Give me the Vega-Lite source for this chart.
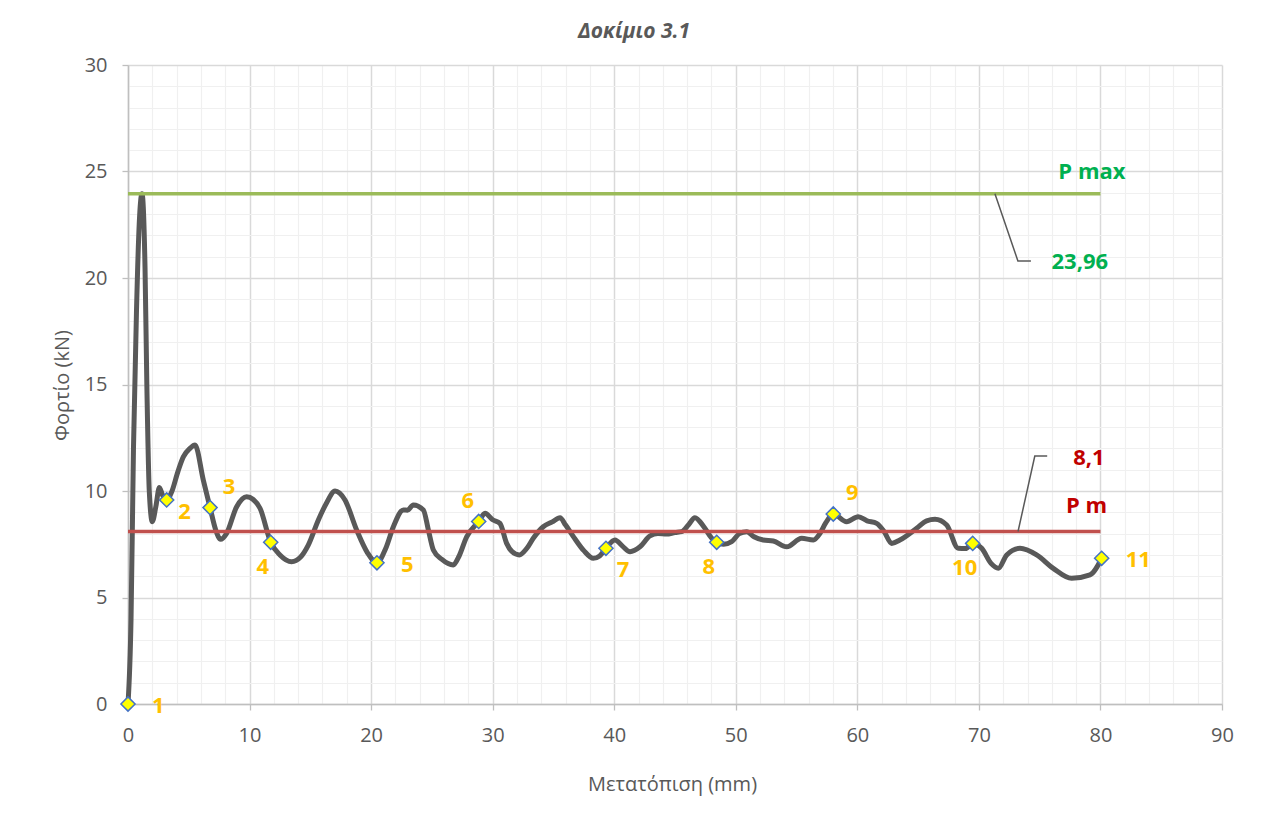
{
  "$schema": "https://vega.github.io/schema/vega-lite/v6.json",
  "width": 1094,
  "height": 639,
  "autosize": {"type": "none"},
  "padding": {"left": 128, "top": 65, "right": 47, "bottom": 110},
  "background": "white",
  "config": {"view": {"stroke": null}, "font": "Open Sans"},
  "title": {"text": "Δοκίμιο 3.1", "fontSize": 21, "fontWeight": "bold", "fontStyle": "italic", "color": "#595959", "dx": -41, "offset": 13, "frame": "group", "font": "Open Sans"},
  "resolve": {"scale": {"color": "independent"}},
  "datasets": {
    "curve": [
      {"x": 0, "y": 0}, {"x": 0.25, "y": 4}, {"x": 0.45, "y": 12}, {"x": 0.7, "y": 18.5}, {"x": 0.92, "y": 22.5}, {"x": 1.15, "y": 23.96},
      {"x": 1.4, "y": 20.5}, {"x": 1.55, "y": 15}, {"x": 1.75, "y": 10}, {"x": 2.0, "y": 8.56}, {"x": 2.3, "y": 9.3}, {"x": 2.58, "y": 10.17},
      {"x": 2.85, "y": 9.8}, {"x": 3.18, "y": 9.58}, {"x": 3.6, "y": 9.97}, {"x": 4.1, "y": 10.9}, {"x": 4.55, "y": 11.6}, {"x": 5.1, "y": 12.0},
      {"x": 5.51, "y": 12.16}, {"x": 6.2, "y": 10.5}, {"x": 6.75, "y": 9.22}, {"x": 7.2, "y": 8.2}, {"x": 7.62, "y": 7.73}, {"x": 8.1, "y": 8.0},
      {"x": 8.94, "y": 9.26}, {"x": 9.76, "y": 9.73}, {"x": 10.3, "y": 9.6}, {"x": 10.86, "y": 9.19}, {"x": 11.74, "y": 7.59}, {"x": 12.5, "y": 7.0},
      {"x": 13.46, "y": 6.68}, {"x": 14.2, "y": 6.9}, {"x": 14.83, "y": 7.46}, {"x": 15.66, "y": 8.64}, {"x": 16.3, "y": 9.4}, {"x": 17.03, "y": 10.0},
      {"x": 17.85, "y": 9.58}, {"x": 18.81, "y": 8.17}, {"x": 19.7, "y": 7.1}, {"x": 20.48, "y": 6.63}, {"x": 21.2, "y": 7.3}, {"x": 21.83, "y": 8.32},
      {"x": 22.65, "y": 9.11}, {"x": 23.0, "y": 9.1}, {"x": 23.47, "y": 9.34}, {"x": 24.3, "y": 9.11}, {"x": 24.7, "y": 8.2}, {"x": 25.12, "y": 7.23},
      {"x": 25.8, "y": 6.8}, {"x": 26.76, "y": 6.53}, {"x": 27.2, "y": 6.9}, {"x": 27.86, "y": 7.85}, {"x": 28.85, "y": 8.57}, {"x": 29.37, "y": 8.95},
      {"x": 30.0, "y": 8.65}, {"x": 30.6, "y": 8.48}, {"x": 31.15, "y": 7.54}, {"x": 31.6, "y": 7.15}, {"x": 32.19, "y": 7.0}, {"x": 32.8, "y": 7.3},
      {"x": 33.34, "y": 7.78}, {"x": 34.16, "y": 8.32}, {"x": 34.9, "y": 8.55}, {"x": 35.54, "y": 8.75}, {"x": 36.0, "y": 8.4}, {"x": 36.64, "y": 7.86},
      {"x": 37.5, "y": 7.2}, {"x": 38.28, "y": 6.84}, {"x": 38.8, "y": 6.95}, {"x": 39.32, "y": 7.31}, {"x": 40.06, "y": 7.7}, {"x": 40.7, "y": 7.4},
      {"x": 41.3, "y": 7.15}, {"x": 42.12, "y": 7.38}, {"x": 42.94, "y": 7.89}, {"x": 43.6, "y": 8.0}, {"x": 44.3, "y": 7.98}, {"x": 45.0, "y": 8.05},
      {"x": 45.55, "y": 8.09}, {"x": 46.1, "y": 8.4}, {"x": 46.64, "y": 8.75}, {"x": 47.4, "y": 8.3}, {"x": 48.0, "y": 7.8}, {"x": 48.43, "y": 7.59},
      {"x": 49.0, "y": 7.5}, {"x": 49.66, "y": 7.62}, {"x": 50.3, "y": 8.0}, {"x": 50.9, "y": 8.09}, {"x": 51.5, "y": 7.85}, {"x": 52.26, "y": 7.7},
      {"x": 53.09, "y": 7.65}, {"x": 54.19, "y": 7.38}, {"x": 55.42, "y": 7.78}, {"x": 56.38, "y": 7.7}, {"x": 56.93, "y": 8.01}, {"x": 57.4, "y": 8.5},
      {"x": 58.02, "y": 8.92}, {"x": 59.12, "y": 8.56}, {"x": 60.08, "y": 8.79}, {"x": 60.8, "y": 8.6}, {"x": 61.59, "y": 8.48}, {"x": 62.2, "y": 8.1},
      {"x": 62.82, "y": 7.54}, {"x": 63.5, "y": 7.7}, {"x": 64.88, "y": 8.25}, {"x": 65.7, "y": 8.6}, {"x": 66.39, "y": 8.67}, {"x": 67.35, "y": 8.4},
      {"x": 68.3, "y": 7.31}, {"x": 68.9, "y": 7.3}, {"x": 69.49, "y": 7.54}, {"x": 70.23, "y": 7.31}, {"x": 71.0, "y": 6.6}, {"x": 71.6, "y": 6.37},
      {"x": 72.29, "y": 7.0}, {"x": 73.38, "y": 7.31}, {"x": 74.75, "y": 7.0}, {"x": 76.12, "y": 6.37}, {"x": 77.63, "y": 5.9}, {"x": 79.14, "y": 6.06},
      {"x": 80.1, "y": 6.84}
    ],
    "points": [
      {"n": 1, "x": 0, "y": 0}, {"n": 2, "x": 3.18, "y": 9.58}, {"n": 3, "x": 6.75, "y": 9.22}, {"n": 4, "x": 11.74, "y": 7.59},
      {"n": 5, "x": 20.48, "y": 6.63}, {"n": 6, "x": 28.85, "y": 8.57}, {"n": 7, "x": 39.32, "y": 7.31}, {"n": 8, "x": 48.43, "y": 7.59},
      {"n": 9, "x": 58.02, "y": 8.92}, {"n": 10, "x": 69.49, "y": 7.54}, {"n": 11, "x": 80.1, "y": 6.84}
    ],
    "refs": [
      {"name": "P max", "y": 23.96, "x0": 0, "x1": 80},
      {"name": "P m", "y": 8.1, "x0": 0, "x1": 80}
    ],
    "leaders": [
      {"g": "P max", "i": 1, "x": 71.32, "y": 23.96}, {"g": "P max", "i": 2, "x": 73.21, "y": 20.8}, {"g": "P max", "i": 3, "x": 74.28, "y": 20.8},
      {"g": "P m", "i": 1, "x": 73.22, "y": 8.1}, {"g": "P m", "i": 2, "x": 74.6, "y": 11.64}, {"g": "P m", "i": 3, "x": 75.62, "y": 11.64}
    ],
    "notes": [
      {"t": "P max", "g": "P max", "x": 79.3, "y": 24.99},
      {"t": "23,96", "g": "P max", "x": 78.3, "y": 20.77},
      {"t": "8,1", "g": "P m", "x": 79.05, "y": 11.55},
      {"t": "P m", "g": "P m", "x": 78.85, "y": 9.3}
    ]
  },
  "layer": [
    {
      "data": {"name": "curve"},
      "mark": {"type": "line", "color": "#595959", "strokeWidth": 5, "interpolate": "monotone", "strokeCap": "round", "strokeJoin": "round"},
      "encoding": {
        "x": {"field": "x", "type": "quantitative", "scale": {"domain": [0, 90], "nice": false, "zero": false},
          "axis": {
            "title": "Μετατόπιση (mm)",
            "values": [0,2,4,6,8,10,12,14,16,18,20,22,24,26,28,30,32,34,36,38,40,42,44,46,48,50,52,54,56,58,60,62,64,66,68,70,72,74,76,78,80,82,84,86,88,90],
            "tickCount": 200,
            "format": "d",
            "labelExpr": "datum.value % 10 === 0 ? datum.label : ''",
            "labelOverlap": false,
            "labelFlush": false,
            "gridColor": {"condition": {"test": "datum.value % 10 === 0", "value": "#D9D9D9"}, "value": "#F0F0F0"},
            "gridWidth": {"condition": {"test": "datum.value % 10 === 0", "value": 1.5}, "value": 1.2},
            "tickOpacity": {"condition": {"test": "datum.value % 10 === 0", "value": 1}, "value": 0},
            "tickColor": "#BFBFBF", "tickSize": 6, "tickWidth": 1.3,
            "domainColor": "#BFBFBF", "domainWidth": 1.5,
            "labelFontSize": 20, "labelColor": "#595959", "labelPadding": 15, "labelFont": "Open Sans",
            "titleFontSize": 20, "titleColor": "#595959", "titleFontWeight": "normal", "titleFont": "Open Sans",
            "titleX": 544, "titleY": 80, "titleBaseline": "middle"
          }},
        "y": {"field": "y", "type": "quantitative", "scale": {"domain": [0, 30], "nice": false, "zero": false},
          "axis": {
            "title": "Φορτίο (kN)",
            "values": [0,1,2,3,4,5,6,7,8,9,10,11,12,13,14,15,16,17,18,19,20,21,22,23,24,25,26,27,28,29,30],
            "tickCount": 200,
            "format": "d",
            "labelExpr": "datum.value % 5 === 0 ? datum.label : ''",
            "labelOverlap": false,
            "labelFlush": false,
            "gridColor": {"condition": {"test": "datum.value % 5 === 0", "value": "#D9D9D9"}, "value": "#F0F0F0"},
            "gridWidth": {"condition": {"test": "datum.value % 5 === 0", "value": 1.5}, "value": 1.2},
            "tickOpacity": {"condition": {"test": "datum.value % 5 === 0", "value": 1}, "value": 0},
            "tickColor": "#BFBFBF", "tickSize": 6, "tickWidth": 1.3,
            "domainColor": "#BFBFBF", "domainWidth": 1.5,
            "labelFontSize": 20, "labelColor": "#595959", "labelPadding": 15, "labelFont": "Open Sans",
            "titleFontSize": 20, "titleColor": "#595959", "titleFontWeight": "normal", "titleFont": "Open Sans",
            "titleX": -66, "titleY": 320, "titleBaseline": "middle"
          }}
      }
    },
    {
      "data": {"name": "refs"},
      "mark": {"type": "rule", "strokeWidth": 3.5},
      "encoding": {
        "x": {"field": "x0", "type": "quantitative"},
        "x2": {"field": "x1"},
        "y": {"field": "y", "type": "quantitative"},
        "color": {"field": "name", "type": "nominal", "scale": {"domain": ["P max", "P m"], "range": ["#9BBB59", "#C0504D"]}, "legend": null}
      }
    },
    {
      "data": {"name": "leaders"},
      "mark": {"type": "line", "color": "#595959", "strokeWidth": 1.5},
      "encoding": {
        "x": {"field": "x", "type": "quantitative"},
        "y": {"field": "y", "type": "quantitative"},
        "detail": {"field": "g"},
        "order": {"field": "i", "type": "quantitative"}
      }
    },
    {
      "data": {"name": "notes"},
      "mark": {"type": "text", "fontSize": 22, "fontWeight": "bold", "align": "center", "baseline": "middle", "font": "Open Sans"},
      "encoding": {
        "x": {"field": "x", "type": "quantitative"},
        "y": {"field": "y", "type": "quantitative"},
        "text": {"field": "t"},
        "color": {"field": "g", "type": "nominal", "scale": {"domain": ["P max", "P m"], "range": ["#00B050", "#C00000"]}, "legend": null}
      }
    },
    {
      "data": {"name": "points"},
      "mark": {"type": "point", "shape": "diamond", "size": 200, "filled": true, "fill": "#FFFF00", "stroke": "#4472C4", "strokeWidth": 1.5, "opacity": 1},
      "encoding": {
        "x": {"field": "x", "type": "quantitative"},
        "y": {"field": "y", "type": "quantitative"}
      }
    },
    {
      "data": {"name": "points"},
      "transform": [{"filter": {"field": "n", "oneOf": [1, 5, 11]}}],
      "mark": {"type": "text", "fontSize": 22, "fontWeight": "bold", "color": "#FFC000", "align": "left", "baseline": "middle", "dx": 24, "dy": 2, "font": "Open Sans"},
      "encoding": {"x": {"field": "x", "type": "quantitative"}, "y": {"field": "y", "type": "quantitative"}, "text": {"field": "n"}}
    },
    {
      "data": {"name": "points"},
      "transform": [{"filter": {"field": "n", "oneOf": [2]}}],
      "mark": {"type": "text", "fontSize": 22, "fontWeight": "bold", "color": "#FFC000", "align": "center", "baseline": "middle", "dx": 18, "dy": 12, "font": "Open Sans"},
      "encoding": {"x": {"field": "x", "type": "quantitative"}, "y": {"field": "y", "type": "quantitative"}, "text": {"field": "n"}}
    },
    {
      "data": {"name": "points"},
      "transform": [{"filter": {"field": "n", "oneOf": [7]}}],
      "mark": {"type": "text", "fontSize": 22, "fontWeight": "bold", "color": "#FFC000", "align": "center", "baseline": "middle", "dx": 17, "dy": 22, "font": "Open Sans"},
      "encoding": {"x": {"field": "x", "type": "quantitative"}, "y": {"field": "y", "type": "quantitative"}, "text": {"field": "n"}}
    },
    {
      "data": {"name": "points"},
      "transform": [{"filter": {"field": "n", "oneOf": [3, 9]}}],
      "mark": {"type": "text", "fontSize": 22, "fontWeight": "bold", "color": "#FFC000", "align": "center", "baseline": "middle", "dx": 19, "dy": -21, "font": "Open Sans"},
      "encoding": {"x": {"field": "x", "type": "quantitative"}, "y": {"field": "y", "type": "quantitative"}, "text": {"field": "n"}}
    },
    {
      "data": {"name": "points"},
      "transform": [{"filter": {"field": "n", "oneOf": [4, 8, 10]}}],
      "mark": {"type": "text", "fontSize": 22, "fontWeight": "bold", "color": "#FFC000", "align": "center", "baseline": "middle", "dx": -8, "dy": 25, "font": "Open Sans"},
      "encoding": {"x": {"field": "x", "type": "quantitative"}, "y": {"field": "y", "type": "quantitative"}, "text": {"field": "n"}}
    },
    {
      "data": {"name": "points"},
      "transform": [{"filter": {"field": "n", "oneOf": [6]}}],
      "mark": {"type": "text", "fontSize": 22, "fontWeight": "bold", "color": "#FFC000", "align": "center", "baseline": "middle", "dx": -11, "dy": -20, "font": "Open Sans"},
      "encoding": {"x": {"field": "x", "type": "quantitative"}, "y": {"field": "y", "type": "quantitative"}, "text": {"field": "n"}}
    }
  ]
}
